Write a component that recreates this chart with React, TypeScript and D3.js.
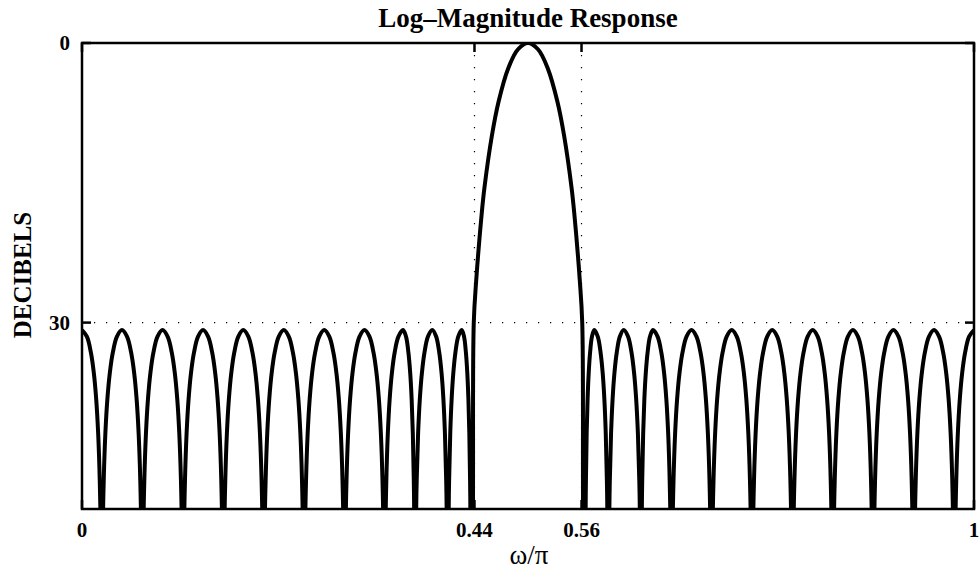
import React from 'react';
import * as d3 from 'd3';

const W = 979;
const H = 575;
const plot = { left: 82, right: 974, top: 43, bottom: 509 };

const xTicks = [0, 0.44, 0.56, 1];
const xTickLabels = ['0', '0.44', '0.56', '1'];
const yTicks = [0, -30];
const yTickLabels = ['0', '30'];
const gridX = [0.44, 0.56];
const gridY = [-30];

// stopband lobes
const leftPeaks = [0, 0.0448, 0.0903, 0.1357, 0.1808, 0.2262, 0.2716, 0.3167, 0.3599, 0.3927, 0.4257];
const leftNulls = [0.0221, 0.0676, 0.1132, 0.1584, 0.2036, 0.2489, 0.2943, 0.3391, 0.3733, 0.41, 0.4361];
const rightNulls = [0.5639, 0.59, 0.6267, 0.6609, 0.7057, 0.7511, 0.7964, 0.8416, 0.8868, 0.9324, 0.9779];
const rightPeaks = [0.5743, 0.6073, 0.6401, 0.6833, 0.7284, 0.7738, 0.8192, 0.8643, 0.9097, 0.9552, 1];
const sidelobeDb = -30.8;
const nullDb = -90;
// shape of one sidelobe: fraction of distance peak->null vs dB below peak
const lobeFrac = [0.25, 0.45, 0.6, 0.72, 0.82, 0.9, 0.95];
const lobeDrop = [-0.7, -2.4, -4.6, -7.4, -11.1, -16.1, -22];

// main lobe (passband)
const mainW = [0.4383, 0.4392, 0.442, 0.4482, 0.4512, 0.4596, 0.467, 0.4779, 0.4886, 0.5, 0.5114, 0.5221, 0.533, 0.5404, 0.5488, 0.5518, 0.558, 0.5608, 0.5617];
const mainDb = [-50, -30, -25.4, -18.2, -15.5, -9.9, -6.3, -2.7, -0.7, 0, -0.7, -2.7, -6.3, -9.9, -15.5, -18.2, -25.4, -30, -50];

function lobePoints(peak: number, leftNull: number | undefined, rightNull: number | undefined): [number, number][] {
  const pts: [number, number][] = [];
  if (leftNull !== undefined) {
    for (let i = lobeFrac.length - 1; i >= 0; i--) {
      pts.push([peak - lobeFrac[i] * (peak - leftNull), sidelobeDb + lobeDrop[i]]);
    }
  }
  pts.push([peak, sidelobeDb]);
  if (rightNull !== undefined) {
    for (let i = 0; i < lobeFrac.length; i++) {
      pts.push([peak + lobeFrac[i] * (rightNull - peak), sidelobeDb + lobeDrop[i]]);
    }
  }
  return pts;
}

function buildCurve(): [number, number][] {
  const pts: [number, number][] = [];
  leftPeaks.forEach((p, i) => {
    pts.push(...lobePoints(p, i > 0 ? leftNulls[i - 1] : undefined, leftNulls[i]));
    pts.push([leftNulls[i], nullDb]);
  });
  mainW.forEach((w, i) => pts.push([w, mainDb[i]]));
  rightPeaks.forEach((p, i) => {
    pts.push([rightNulls[i], nullDb]);
    pts.push(...lobePoints(p, rightNulls[i], rightNulls[i + 1]));
  });
  return pts;
}

export default function App() {
  const x = d3.scaleLinear().domain([0, 1]).range([plot.left, plot.right]);
  const y = d3.scaleLinear().domain([-50, 0]).range([plot.bottom, plot.top]);
  const line = d3
    .line<[number, number]>()
    .x((d) => x(d[0]))
    .y((d) => y(d[1]))
    .curve(d3.curveCatmullRom.alpha(0.5));
  const data = buildCurve();
  const font = "'Liberation Serif', 'Times New Roman', serif";
  const tickLen = 9;
  return (
    <svg width={W} height={H} style={{ position: 'absolute', left: 0, top: 0, background: '#fff' }}>
      <defs>
        <clipPath id="clip">
          <rect x={plot.left} y={plot.top} width={plot.right - plot.left} height={plot.bottom - plot.top} />
        </clipPath>
      </defs>
      <rect x={0} y={0} width={W} height={H} fill="#fff" />
      {gridX.map((g) => (
        <line key={'gx' + g} x1={x(g)} x2={x(g)} y1={plot.top} y2={plot.bottom} stroke="#000" strokeWidth={1.2} strokeDasharray="1.2 10.8" />
      ))}
      {gridY.map((g) => (
        <line key={'gy' + g} x1={plot.left} x2={plot.right} y1={y(g)} y2={y(g)} stroke="#000" strokeWidth={1.2} strokeDasharray="1.2 10.8" />
      ))}
      <path d={line(data) || ''} fill="none" stroke="#000" strokeWidth={4} strokeLinejoin="round" clipPath="url(#clip)" />
      <rect x={plot.left} y={plot.top} width={plot.right - plot.left} height={plot.bottom - plot.top} fill="none" stroke="#000" strokeWidth={2.5} />
      {xTicks.map((t) => (
        <g key={'xt' + t}>
          <line x1={x(t)} x2={x(t)} y1={plot.bottom} y2={plot.bottom - tickLen} stroke="#000" strokeWidth={2.5} />
          <line x1={x(t)} x2={x(t)} y1={plot.top} y2={plot.top + tickLen} stroke="#000" strokeWidth={2.5} />
        </g>
      ))}
      {yTicks.map((t) => (
        <g key={'yt' + t}>
          <line x1={plot.left} x2={plot.left + tickLen} y1={y(t)} y2={y(t)} stroke="#000" strokeWidth={2.5} />
          <line x1={plot.right} x2={plot.right - tickLen} y1={y(t)} y2={y(t)} stroke="#000" strokeWidth={2.5} />
        </g>
      ))}
      {xTicks.map((t, i) => (
        <text key={'xl' + t} x={x(t)} y={537} textAnchor="middle" fontFamily={font} fontWeight="bold" fontSize={21}>
          {xTickLabels[i]}
        </text>
      ))}
      {yTicks.map((t, i) => (
        <text key={'yl' + t} x={70} y={y(t) + 7} textAnchor="end" fontFamily={font} fontWeight="bold" fontSize={21}>
          {yTickLabels[i]}
        </text>
      ))}
      <text x={528} y={27} textAnchor="middle" fontFamily={font} fontWeight="bold" fontSize={27}>
        Log–Magnitude Response
      </text>
      <text x={529} y={564} textAnchor="middle" fontFamily={font} fontSize={27}>
        ω/π
      </text>
      <text transform="translate(31,275) rotate(-90)" textAnchor="middle" fontFamily={font} fontWeight="bold" fontSize={25}>
        DECIBELS
      </text>
    </svg>
  );
}
